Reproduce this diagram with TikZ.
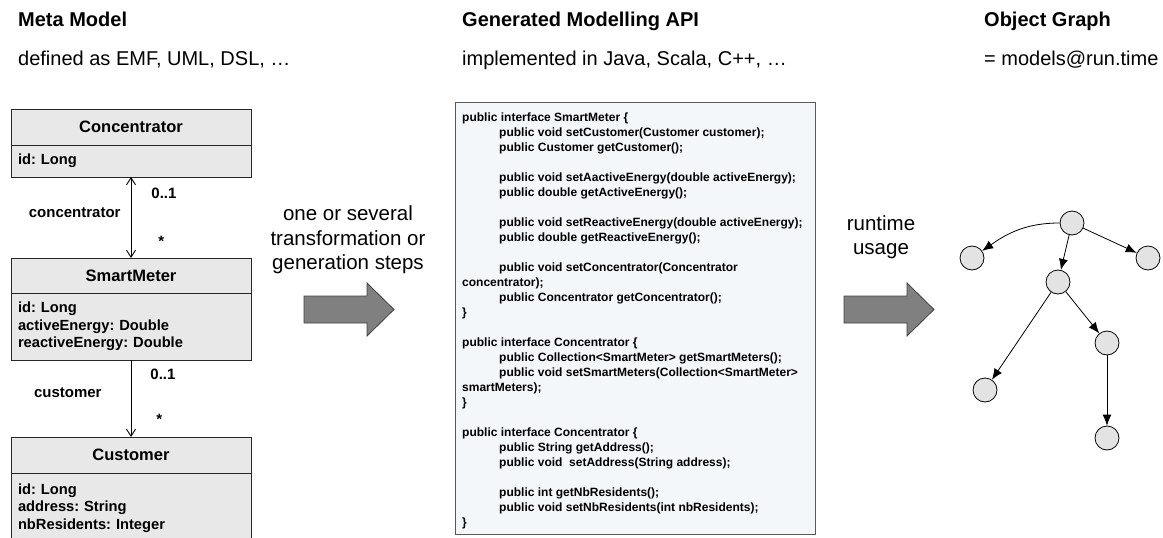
\documentclass[tikz,border=0pt]{standalone}
\usepackage{fontspec}
\setmainfont{Liberation Sans}
\usetikzlibrary{positioning,arrows.meta}
\definecolor{codebg}{HTML}{F4F7F9}
\definecolor{umlgray}{HTML}{E8E8E8}
\newcommand\codeindent{\hspace*{37pt}}

\tikzset{
  heading/.style={font=\bfseries\fontsize{20}{23}\selectfont, inner sep=0pt},
  subheading/.style={font=\fontsize{20}{23}\selectfont, inner sep=0pt},
  umltitle/.style={draw=black!85, fill=umlgray, line width=0.9pt, outer sep=0pt,
    minimum width=240pt, inner sep=0pt, font=\bfseries\fontsize{16.5}{19}\selectfont},
  umlattr/.style={draw=black!85, fill=umlgray, line width=0.9pt, outer sep=0pt,
    text width=226pt, inner xsep=7pt, inner ysep=0pt, align=left,
    font=\bfseries\fontsize{14.7}{17.3}\selectfont},
  assoc/.style={line width=0.9pt, >={Straight Barb[length=7pt,width=9pt]}},
  assoclabel/.style={font=\bfseries\fontsize{15}{18}\selectfont, inner sep=0pt},
  steplabel/.style={align=center, font=\fontsize{20.5}{24.5}\selectfont, inner sep=0pt},
  fatarrow/.style={draw=black!75, fill=black!50, line width=0.8pt, line join=miter},
  codebox/.style={draw=black!65, fill=codebg, line width=1.4pt, minimum width=360pt,
    minimum height=432pt, inner sep=0pt},
  codetext/.style={align=left, inner sep=0pt, font=\bfseries\fontsize{12}{15}\selectfont},
  gnode/.style={circle, draw, fill=black!11, minimum size=24pt, inner sep=0pt, line width=0.8pt},
  garrow/.style={line width=0.8pt, -{Latex[length=11pt,width=9pt]}}
}

\begin{document}
\frenchspacing
\begin{tikzpicture}[x=1pt,y=-1pt]
\clip (0,0) rectangle (1163,538);

% headings
\node[heading, anchor=base west] (mmhead) at (18,27) {Meta Model};
\node[subheading, anchor=base west] (mmsub) at (18,65) {defined as EMF, UML, DSL, …};
\node[heading, anchor=base west] (apihead) at (462,27) {Generated Modelling API};
\node[subheading, anchor=base west] (apisub) at (462,65) {implemented in Java, Scala, C++, …};
\node[heading, anchor=base west] (oghead) at (984,27) {Object Graph};
\node[subheading, anchor=base west] (ogsub) at (984,65) {= models@run.time};

% meta model
\node[umltitle, minimum height=36pt] (conc) at (131,127) {Concentrator};
\node[umlattr, minimum height=32pt, below=0pt of conc] (concattr) {id: Long};
\node[umltitle, minimum height=35pt] (smart) at (131,275.5) {SmartMeter};
\node[umlattr, minimum height=67pt, below=0pt of smart] (smartattr)
  {id: Long\\activeEnergy: Double\\reactiveEnergy: Double};
\node[umltitle, minimum height=36pt] (cust) at (131,455) {Customer};
\node[umlattr, minimum height=70pt, below=0pt of cust] (custattr)
  {id: Long\\address: String\\nbResidents: Integer};

\draw[assoc, <->] (concattr) -- (smart)
  node[assoclabel, pos=0.2, right=20pt] {0..1}
  node[assoclabel, pos=0.44, left=10pt] {concentrator}
  node[assoclabel, pos=0.8, right=27pt] {*};
\draw[assoc, ->] (smartattr) -- (cust)
  node[assoclabel, pos=0.18, right=19pt] {0..1}
  node[assoclabel, pos=0.43, left=29pt] {customer}
  node[assoclabel, pos=0.77, right=25pt] {*};

% transformation arrows
\node[steplabel] (translabel) at (348,240) {one or several\\transformation or\\generation steps};
\node[steplabel] (runlabel) at (881,237) {runtime\\usage};
\foreach \x in {0,540}
  \draw[fatarrow, shift={(\x,0)}] (304,296) -- (367,296) -- (367,283) -- (394,309.5)
    -- (367,336) -- (367,323) -- (304,323) -- cycle;

% generated api
\node[codebox, anchor=north west] (api) at (455,102) {};
\node[codetext, anchor=north west] (apicode) at ([xshift=7pt, yshift=-11pt]api.north west) {%
public interface SmartMeter \{\\
\codeindent public void setCustomer(Customer customer);\\
\codeindent public Customer getCustomer();\\
\mbox{}\\
\codeindent public void setAactiveEnergy(double activeEnergy);\\
\codeindent public double getActiveEnergy();\\
\mbox{}\\
\codeindent public void setReactiveEnergy(double activeEnergy);\\
\codeindent public double getReactiveEnergy();\\
\mbox{}\\
\codeindent public void setConcentrator(Concentrator\\
concentrator);\\
\codeindent public Concentrator getConcentrator();\\
\}\\
\mbox{}\\
public interface Concentrator \{\\
\codeindent public Collection<SmartMeter> getSmartMeters();\\
\codeindent public void setSmartMeters(Collection<SmartMeter>\\
smartMeters);\\
\}\\
\mbox{}\\
public interface Concentrator \{\\
\codeindent public String getAddress();\\
\codeindent public void~ setAddress(String address);\\
\mbox{}\\
\codeindent public int getNbResidents();\\
\codeindent public void setNbResidents(int nbResidents);\\
\}};

% object graph
\node[gnode] (root) at (1072,223) {};
\node[gnode] (left) at (972,258) {};
\node[gnode] (right) at (1148,258) {};
\node[gnode] (mid) at (1058,282) {};
\node[gnode] (midright) at (1107,343) {};
\node[gnode] (lowleft) at (985,390) {};
\node[gnode] (bottom) at (1107,438) {};
\draw[garrow] (root.west) to[out=180, in=35] (left);
\draw[garrow] (root) -- (right);
\draw[garrow] (root) -- (mid);
\draw[garrow] (mid) -- (midright);
\draw[garrow] (mid) -- (lowleft);
\draw[garrow] (midright) -- (bottom);
\end{tikzpicture}
\end{document}
